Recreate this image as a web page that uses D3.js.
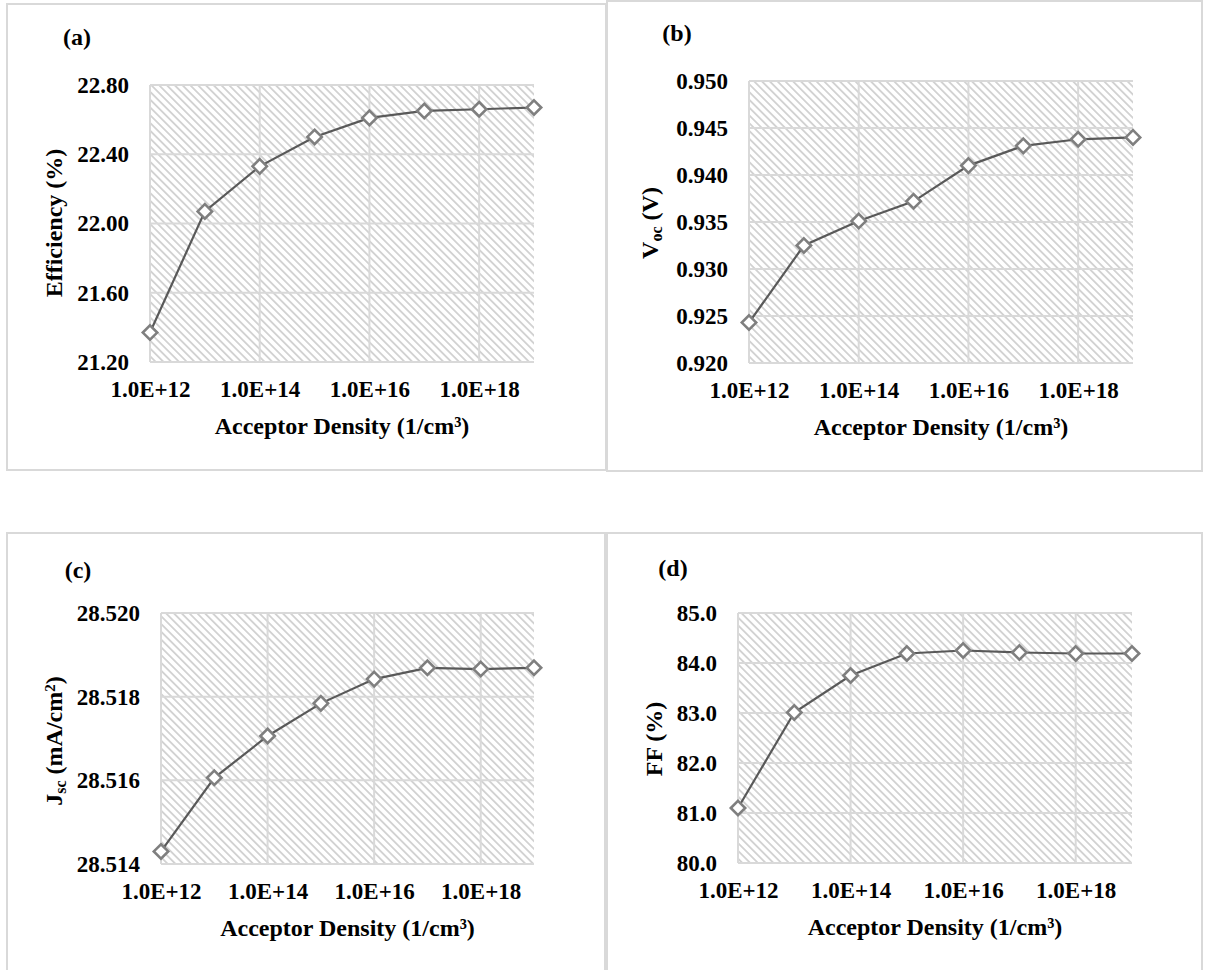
<!DOCTYPE html>
<html>
<head>
<meta charset="utf-8">
<script src="https://cdn.jsdelivr.net/npm/d3@7"></script>
<style>
  body { margin: 0; background: #fff; }
</style>
</head>
<body>
<svg id="chart"></svg>
<script>
// acceptor density (1/cm3) and tick marks
var density = [1e12, 1e13, 1e14, 1e15, 1e16, 1e17, 1e18, 1e19],
    xTicks = [1e12, 1e14, 1e16, 1e18];

var efficiency = [21.37, 22.07, 22.33, 22.50, 22.61, 22.65, 22.66, 22.67],
    effTicks = [21.2, 21.6, 22.0, 22.4, 22.8];
var voc = [0.9243, 0.9325, 0.9351, 0.9372, 0.9410, 0.9431, 0.9438, 0.9440],
    vocTicks = [0.920, 0.925, 0.930, 0.935, 0.940, 0.945, 0.950];
var jsc = [28.5143, 28.51606, 28.51706, 28.51784, 28.51842, 28.51869, 28.51866, 28.51869],
    jscTicks = [28.514, 28.516, 28.518, 28.520];
var ff = [81.10, 83.01, 83.75, 84.19, 84.25, 84.21, 84.19, 84.19],
    ffTicks = [80, 81, 82, 83, 84, 85];

var FONT = '"Liberation Serif", "Times New Roman", "DejaVu Serif", serif';

var svg = d3.select("#chart").attr("width", 1205).attr("height", 970);

var pat = svg.append("defs").append("pattern")
    .attr("id", "hatch")
    .attr("patternUnits", "userSpaceOnUse")
    .attr("width", 5.5).attr("height", 5.5)
    .attr("patternTransform", "rotate(-45)");
pat.append("line")
    .attr("x1", 2.75).attr("y1", 0).attr("x2", 2.75).attr("y2", 5.5)
    .attr("stroke", "#c4c4c4").attr("stroke-width", 1.4);

var panels = [
  { tag: "(a)", values: efficiency, ticks: effTicks, fmt: ".2f", ylab: [["Efficiency (%)"]],
    box: [7, 4, 606, 470], plot: { l: 150, r: 534, t: 85, b: 362 }, tagPos: [77, 37], ylabPos: [54, 223] },
  { tag: "(b)", values: voc, ticks: vocTicks, fmt: ".3f", ylab: [["V"], ["oc", "sub"], [" (V)"]],
    box: [607, 1, 1202, 471], plot: { l: 749, r: 1133, t: 81, b: 363 }, tagPos: [677, 33], ylabPos: [650, 223] },
  { tag: "(c)", values: jsc, ticks: jscTicks, fmt: ".3f", ylab: [["J"], ["sc", "sub"], [" (mA/cm"], ["2", "sup"], [")"]],
    box: [7, 533, 605, 1000], plot: { l: 161, r: 534, t: 613, b: 864 }, tagPos: [78, 570], ylabPos: [54, 741] },
  { tag: "(d)", values: ff, ticks: ffTicks, fmt: ".1f", ylab: [["FF (%)"]],
    box: [607, 533, 1202, 1000], plot: { l: 738, r: 1132, t: 613, b: 863 }, tagPos: [673, 568], ylabPos: [654, 739] }
];

panels.forEach(drawPanel);

svg.selectAll("text")
    .style("font-family", FONT)
    .style("font-weight", "bold")
    .style("fill", "#000");

function drawPanel(p) {
  var b = p.box, pl = p.plot;
  svg.append("rect")
      .attr("x", b[0]).attr("y", b[1])
      .attr("width", b[2] - b[0]).attr("height", b[3] - b[1])
      .attr("fill", "none").attr("stroke", "#d9d9d9").attr("stroke-width", 2);

  var x = d3.scaleLog().domain([1e12, 1e19]).range([pl.l, pl.r]);
  var y = d3.scaleLinear().domain(d3.extent(p.ticks)).range([pl.b, pl.t]);

  var g = svg.append("g");
  g.append("rect")
      .attr("x", pl.l).attr("y", pl.t)
      .attr("width", pl.r - pl.l).attr("height", pl.b - pl.t)
      .attr("fill", "url(#hatch)");

  // grid
  g.selectAll(".hg").data(p.ticks).enter().append("line")
      .attr("x1", pl.l).attr("x2", pl.r)
      .attr("y1", d => y(d)).attr("y2", d => y(d))
      .attr("stroke", "#d9d9d9").attr("stroke-width", 2);
  g.selectAll(".vg").data(xTicks).enter().append("line")
      .attr("x1", d => x(d)).attr("x2", d => x(d))
      .attr("y1", pl.t).attr("y2", pl.b)
      .attr("stroke", "#d9d9d9").attr("stroke-width", 2);

  // axes (labels only)
  var ya = g.append("g").attr("transform", "translate(" + pl.l + ",0)")
      .call(d3.axisLeft(y).tickValues(p.ticks).tickSize(0).tickPadding(21).tickFormat(d3.format(p.fmt)));
  var xa = g.append("g").attr("transform", "translate(0," + pl.b + ")")
      .call(d3.axisBottom(x).tickValues(xTicks).tickSize(0)
        .tickFormat(d => "1.0E+" + Math.round(Math.log10(d))));
  [ya, xa].forEach(a => {
    a.select(".domain").remove();
    a.attr("font-family", null).attr("font-size", null);
    a.selectAll("text").attr("font-size", 23);
  });
  xa.selectAll("text").attr("y", 27).attr("dy", "0.35em");

  // series
  var pts = density.map((d, i) => [d, p.values[i]]);
  g.append("path").datum(pts)
      .attr("fill", "none").attr("stroke", "#595959").attr("stroke-width", 2.2)
      .attr("d", d3.line().x(d => x(d[0])).y(d => y(d[1])));
  g.selectAll(".mk").data(pts).enter().append("path")
      .attr("transform", d => "translate(" + x(d[0]) + "," + y(d[1]) + ")")
      .attr("d", "M0,-7.2L7.2,0L0,7.2L-7.2,0Z")
      .attr("fill", "#fff").attr("stroke", "#7f7f7f").attr("stroke-width", 2.6);

  // labels
  svg.append("text").attr("x", p.tagPos[0]).attr("y", p.tagPos[1])
      .attr("text-anchor", "middle").attr("dy", "0.35em").attr("font-size", 24).text(p.tag);
  svg.append("text").attr("x", (pl.l + pl.r) / 2).attr("y", pl.b + 64)
      .attr("text-anchor", "middle").attr("dy", "0.35em").attr("font-size", 24)
      .text("Acceptor Density (1/cm\u00b3)");

  var yt = svg.append("text")
      .attr("transform", "translate(" + p.ylabPos[0] + "," + p.ylabPos[1] + ") rotate(-90)")
      .attr("text-anchor", "middle").attr("dy", "0.35em").attr("font-size", 24);
  p.ylab.forEach(part => {
    var t = yt.append("tspan").text(part[0]);
    if (part[1] == "sub") t.attr("font-size", 16).attr("baseline-shift", "-25%");
    if (part[1] == "sup") t.attr("font-size", 15).attr("baseline-shift", "45%");
  });
}
</script>
</body>
</html>
